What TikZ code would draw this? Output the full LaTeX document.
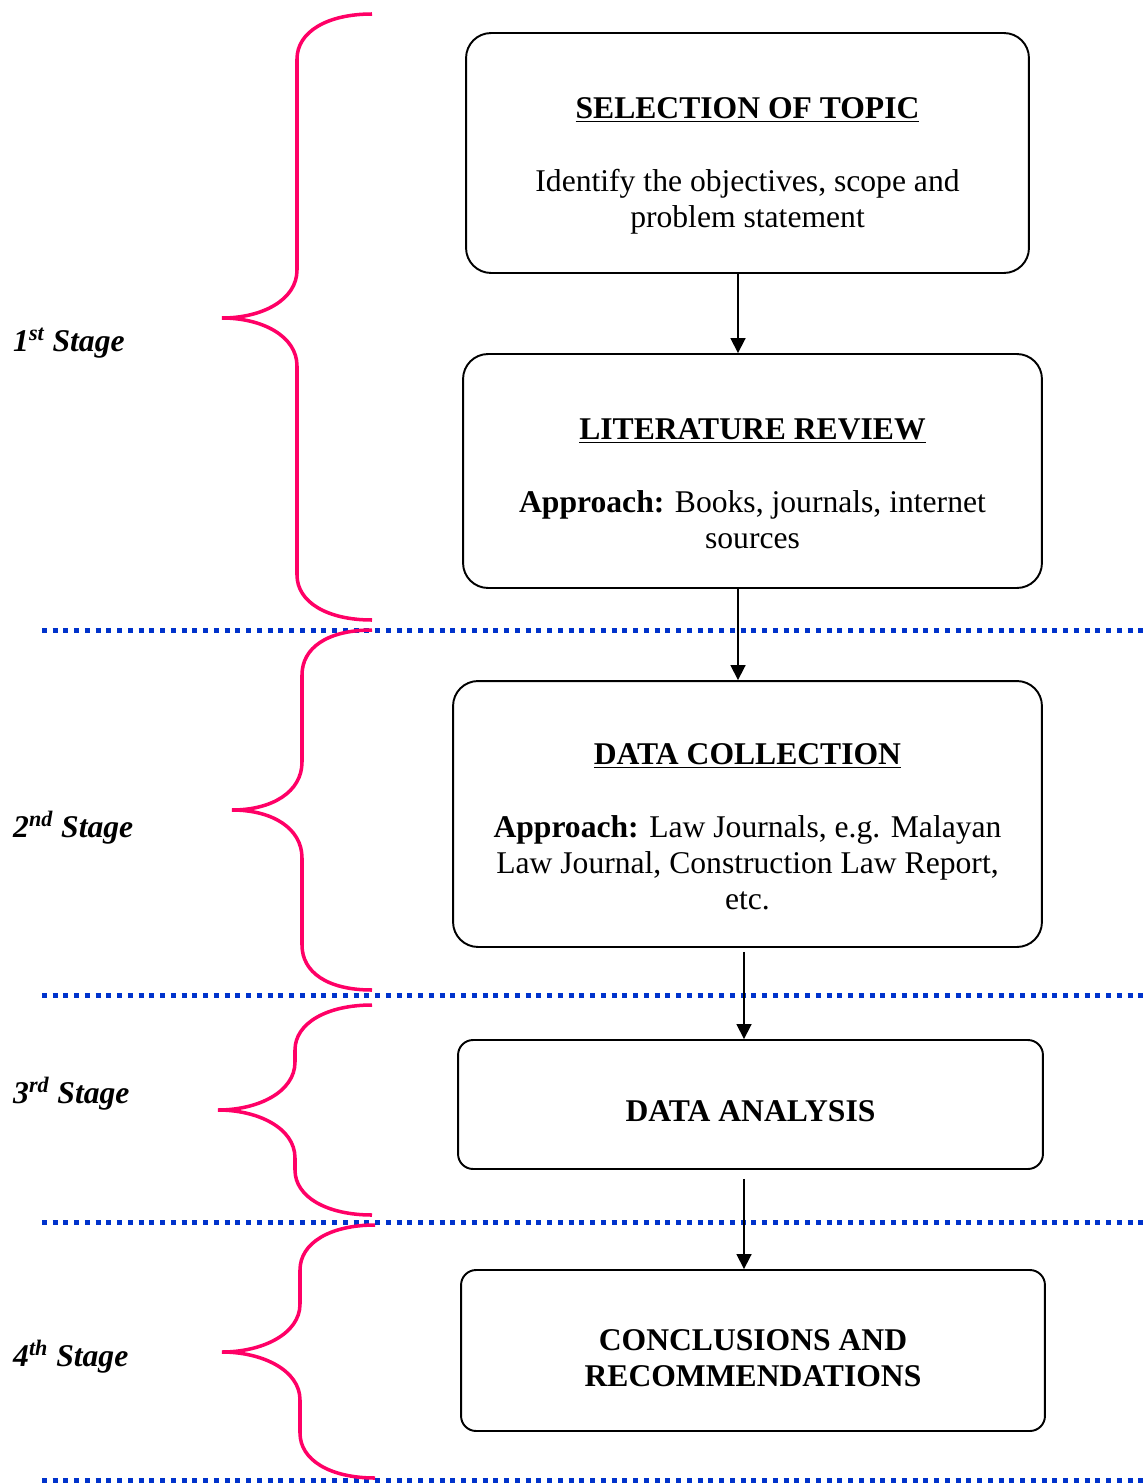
\documentclass[tikz,border=0pt]{standalone}
\usepackage{fontspec}
\setmainfont{Liberation Serif}
\usetikzlibrary{arrows.meta}

\definecolor{bracepink}{HTML}{FF0066}
\definecolor{sepblue}{HTML}{0033CC}

% extra room above the first line, pushes the text down in its box
\newcommand{\topgap}[1]{\rule{0pt}{#1}}

\tikzset{
  every node/.style={font=\fontsize{18}{20.5}\selectfont},
  box/.style={draw,line width=1.1pt,rounded corners=0.5cm,align=center,inner sep=0pt},
  smallbox/.style={box,rounded corners=0.3cm},
  stage/.style={anchor=west,font=\fontsize{18}{20.5}\selectfont\bfseries\itshape},
  flow/.style={-{Triangle[length=0.3cm,width=0.3cm]},line width=1pt},
  sep/.style={sepblue,line width=0.1cm,dash pattern=on 0.1cm off 0.115cm},
  brace/.style={bracepink,line width=2pt}
}

\begin{document}
\begin{tikzpicture}[x=0.02cm,y=-0.02cm]
      \useasboundingbox (0,0) rectangle (1145,1484);

      \node [box,minimum width=11.26cm,minimum height=4.8cm] (topic) at (747.5,153)
        {\topgap{26.5pt}\textbf{\underline{SELECTION OF TOPIC}}\\[21pt]
         Identify the objectives, scope and\\problem statement};
      \node [box,minimum width=11.58cm,minimum height=4.68cm] (review) at (752.5,471)
        {\topgap{26.5pt}\textbf{\underline{LITERATURE REVIEW}}\\[21pt]
         \textbf{Approach:} Books, journals, internet\\sources};
      \node [box,minimum width=11.78cm,minimum height=5.32cm] (collect) at (747.5,814)
        {\topgap{26.5pt}\textbf{\underline{DATA COLLECTION}}\\[21pt]
         \textbf{Approach:} Law Journals, e.g. Malayan\\
         Law Journal, Construction Law Report,\\etc.};
      \node [smallbox,minimum width=11.7cm,minimum height=2.58cm] (analysis) at (750.5,1104.5)
        {\topgap{19.5pt}\textbf{DATA ANALYSIS}};
      \node [smallbox,minimum width=11.68cm,minimum height=3.22cm] (concl) at (753,1350.5)
        {\topgap{20.5pt}\textbf{CONCLUSIONS AND}\\\textbf{RECOMMENDATIONS}};

      \node [stage] (s1) at (7,343) {1\textsuperscript{st} Stage};
      \node [stage] (s2) at (7,828) {2\textsuperscript{nd} Stage};
      \node [stage] (s3) at (7,1094) {3\textsuperscript{rd} Stage};
      \node [stage] (s4) at (7,1357) {4\textsuperscript{th} Stage};

      % stage separators
      \foreach \ysep in {630,995,1222,1480}
        \draw [sep] (42,\ysep) -- (1145,\ysep);

      % braces
      \foreach \xe/\ytop/\ytip/\ybot/\xv/\xt in {372/14/318/620/297/222, 372/630/810/990/302/232,
                                                 372/1005/1110/1215/295/218, 375/1225/1352/1478/300/222}
        \draw [brace] (\xe,\ytop) .. controls (\xe-45,\ytop) and (\xv,\ytop+18) .. (\xv,\ytop+45)
          -- (\xv,\ytip-48) .. controls (\xv,\ytip-18) and (\xt+40,\ytip) .. (\xt,\ytip)
          .. controls (\xt+40,\ytip) and (\xv,\ytip+18) .. (\xv,\ytip+48)
          -- (\xv,\ybot-45) .. controls (\xv,\ybot-18) and (\xe-45,\ybot) .. (\xe,\ybot);

      \draw [flow] ([xshift=-0.19cm]topic.south) -- ([xshift=-0.19cm]topic.south |- review.north);
      \draw [flow] ([xshift=-0.29cm]review.south) -- ([xshift=-0.29cm]review.south |- collect.north);
      \draw [flow,shorten <=0.08cm] ([xshift=-0.07cm]collect.south) -- ([xshift=-0.07cm]collect.south |- analysis.north);
      \draw [flow,shorten <=0.18cm] ([xshift=-0.13cm]analysis.south) -- ([xshift=-0.13cm]analysis.south |- concl.north);
\end{tikzpicture}
\end{document}
